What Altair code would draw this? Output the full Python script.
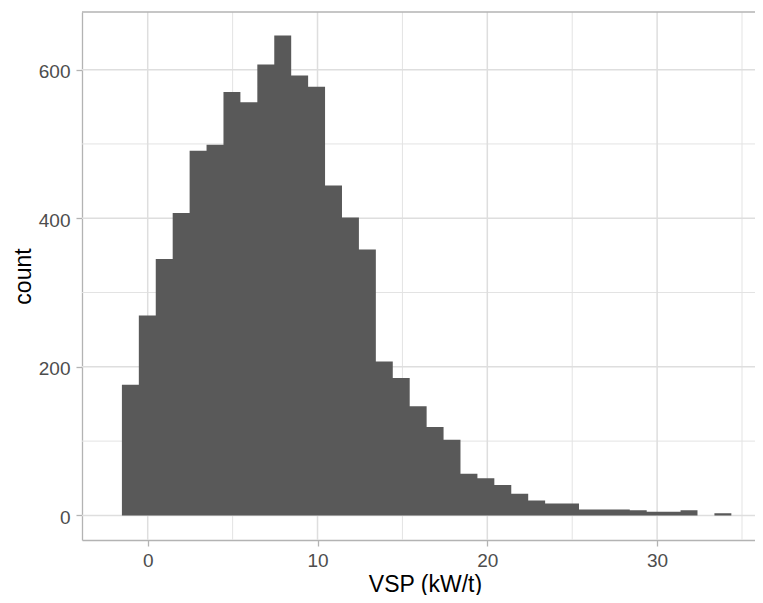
import altair as alt
import pandas as pd

# ---- data ----
BIN_START = -1.52   # left edge of first bin (kW/t)
BIN_WIDTH = 0.997   # bin width (kW/t)
counts = [176, 269, 345, 407, 491, 499, 570, 556, 607, 646, 592, 577,
          444, 401, 358, 207, 185, 147, 119, 102, 56, 50, 41, 29,
          20, 16, 16, 8, 8, 8, 7, 5, 5, 7, 0, 3]

x_major = [0, 10, 20, 30]
x_minor = [5, 15, 25, 35]
y_major = [0, 200, 400, 600]
y_minor = [100, 300, 500]

W, H = 673, 528
X_DOMAIN = [-3.87, -3.87 + W / 16.98]
Y_DOMAIN = [-33.1, 677.6]
FONT = "Liberation Sans"

# histogram outline as a step polygon: bin edges with the count of the bin that starts there
edges = [BIN_START + i * BIN_WIDTH for i in range(len(counts) + 1)]
hist = pd.DataFrame({"edge": edges, "n": counts + [counts[-1]]})

xs = alt.Scale(domain=X_DOMAIN, nice=False, zero=False)
ys = alt.Scale(domain=Y_DOMAIN, nice=False, zero=False)

ax_x = alt.Axis(
    values=x_major, grid=False, domainColor="#B3B3B3", domainWidth=1.3,
    tickColor="#B3B3B3", tickWidth=1.3, tickSize=6,
    labelFontSize=19, labelColor="#4D4D4D", labelPadding=5, labelFlush=False,
    title="VSP (kW/t)", titleFontSize=23, titleColor="#000000",
    titleFontWeight="normal", titleBaseline="alphabetic", titleY=51, titleX=343)
ax_y = alt.Axis(
    values=y_major, grid=False, domainColor="#B3B3B3", domainWidth=1.3,
    tickColor="#B3B3B3", tickWidth=1.3, tickSize=6,
    labelFontSize=19, labelColor="#4D4D4D", labelPadding=6, labelFlush=False,
    labelOffset=2,
    title="count", titleFontSize=23, titleColor="#000000",
    titleFontWeight="normal", titleBaseline="alphabetic", titleAngle=270,
    titleX=-52, titleY=H / 2, titleAlign="center")

grid_minor_x = alt.Chart(pd.DataFrame({"v": x_minor})).mark_rule(
    color="#E3E3E3", strokeWidth=1.0).encode(x=alt.X("v:Q", scale=xs, axis=ax_x))
grid_minor_y = alt.Chart(pd.DataFrame({"v": y_minor})).mark_rule(
    color="#E3E3E3", strokeWidth=1.0).encode(y=alt.Y("v:Q", scale=ys, axis=ax_y))
grid_major_x = alt.Chart(pd.DataFrame({"v": x_major})).mark_rule(
    color="#DEDEDE", strokeWidth=1.5).encode(x=alt.X("v:Q", scale=xs, axis=ax_x))
grid_major_y = alt.Chart(pd.DataFrame({"v": y_major})).mark_rule(
    color="#DEDEDE", strokeWidth=1.5).encode(y=alt.Y("v:Q", scale=ys, axis=ax_y))

bars = alt.Chart(hist).mark_area(color="#595959", interpolate="step-after",
                                 opacity=1).encode(
    x=alt.X("edge:Q", scale=xs, axis=ax_x),
    y=alt.Y("n:Q", scale=ys, axis=ax_y),
    y2=alt.Y2(datum=0),
)

top_border = alt.Chart(pd.DataFrame({"a": [0]})).mark_rule(
    color="#B3B3B3", strokeWidth=1.3).encode(
    x=alt.value(0), x2=alt.value(W), y=alt.value(0))

chart = alt.layer(grid_minor_x, grid_minor_y, grid_major_x, grid_major_y,
                  bars, top_border).properties(
    width=W, height=H,
    autosize=alt.AutoSizeParams(type="none"),
    padding={"left": 74, "top": 4, "right": 0, "bottom": 55},
    background="white",
).configure_view(stroke="transparent", strokeWidth=0).configure_axis(
    labelFont=FONT, titleFont=FONT)

chart.save("out.html", embed_options={"renderer": "svg", "actions": False})
